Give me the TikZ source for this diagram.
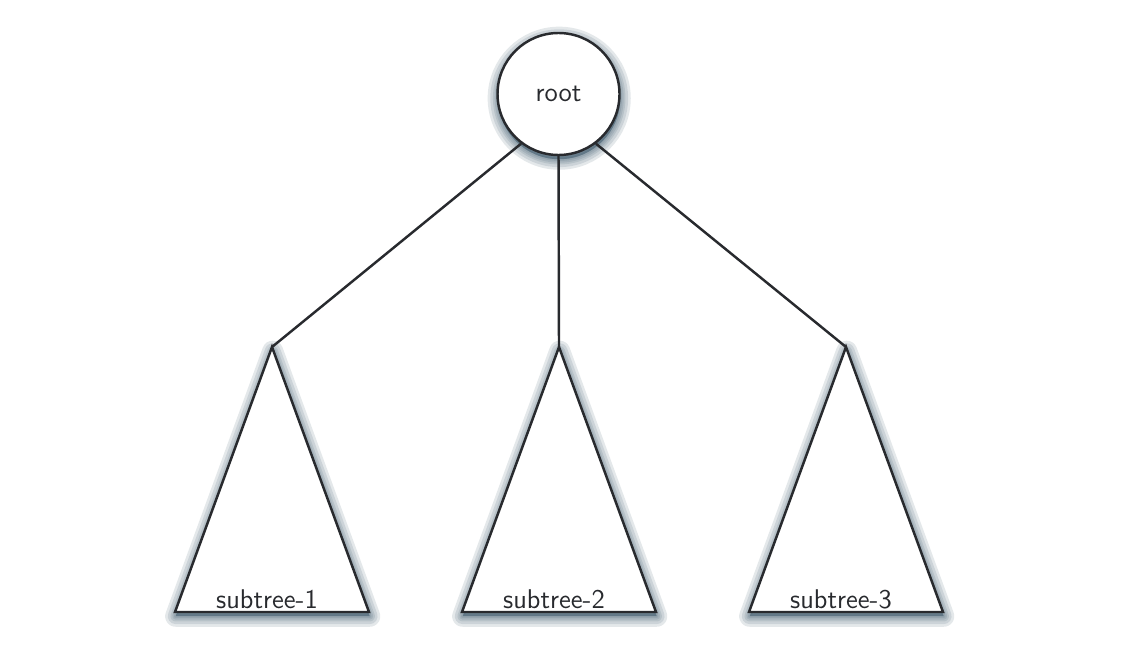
\documentclass[tikz,border=0pt]{standalone}

\definecolor{inkgray}{RGB}{40,42,46}
\definecolor{shadegray}{RGB}{45,75,95}

\tikzset{
  treeline/.style={line width=1.4pt, draw=inkgray},
  halo/.style={preaction={draw=shadegray, fill=shadegray, opacity=0.13, line width=#1,
      line join=round, transform canvas={xshift=0.4pt, yshift=-2.4pt}}},
  softshadow/.style={halo=12pt, halo=9pt, halo=6pt, halo=4pt, halo=2pt},
  treetext/.style={font=\sffamily\fontsize{15.4}{18}\selectfont, text=inkgray},
}

\begin{document}
\begin{tikzpicture}
\useasboundingbox (0,0) rectangle (22.9,13.24);

% --- subtrees ---
\foreach \i/\x in {1/5.44, 2/11.18, 3/16.92} {
  \coordinate (apex-\i) at (\x,6.3);
  \path[treeline, fill=white, softshadow] (apex-\i) -- ++(-1.94,-5.3) -- ++(3.88,0) -- cycle;
  \node[treetext, anchor=base] (st-\i) at (\x-0.1,1.08) {subtree-\i};
}

% --- root ---
\node[circle, treeline, fill=white, softshadow, minimum size=2.44cm, inner sep=0pt,
      treetext] (root) at (11.17,11.36) {root};

% --- edges ---
\draw[treeline] (root.233) -- (apex-1);
\draw[treeline] (root.south) -- (apex-2);
\draw[treeline] (root.307) -- (apex-3);
\end{tikzpicture}
\end{document}
